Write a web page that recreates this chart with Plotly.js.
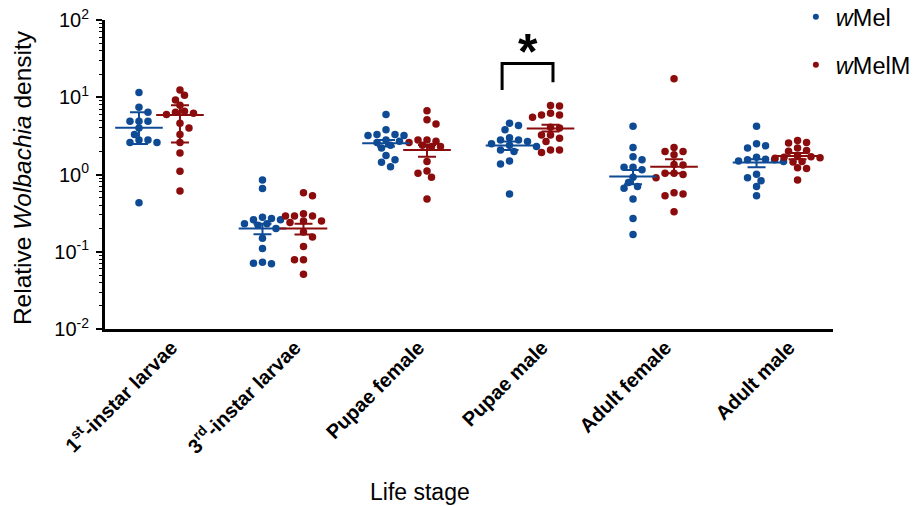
<!DOCTYPE html>
<html><head><meta charset="utf-8">
<script src="https://cdn.plot.ly/plotly-3.0.1.min.js"></script>
<style>html,body{margin:0;padding:0;background:#fff}#chart{width:915px;height:506px}</style>
</head><body><div id="chart"></div>
<script>
// ---- data ----
const stageLabels = ["1<sup>st</sup>-instar larvae", "3<sup>rd</sup>-instar larvae", "Pupae female", "Pupae male", "Adult female", "Adult male"];
const seriesNames = ["<i>w</i>Mel", "<i>w</i>MelM"];

const wMel_1st   = [11.5, 7.4, 6.4, 4.9, 4.9, 4.9, 4.0, 3.3, 2.8, 2.8, 2.6, 2.6, 0.43];
const wMel_3rd   = [0.85, 0.66, 0.28, 0.27, 0.26, 0.26, 0.23, 0.23, 0.22, 0.20, 0.15, 0.11, 0.073, 0.071, 0.070];
const wMel_pupF  = [6.0, 3.8, 3.3, 3.3, 3.2, 3.2, 2.8, 2.7, 2.6, 2.4, 2.2, 1.76, 1.55, 1.44, 1.26];
const wMel_pupM  = [4.6, 4.3, 3.8, 3.0, 2.8, 2.8, 2.67, 2.5, 2.4, 2.3, 2.08, 1.98, 1.5, 1.37, 0.56];
const wMel_adF   = [4.2, 2.23, 1.7, 1.55, 1.24, 1.24, 1.15, 0.92, 0.785, 0.70, 0.665, 0.48, 0.27, 0.167];
const wMel_adM   = [4.2, 2.5, 2.35, 2.2, 1.67, 1.58, 1.55, 1.55, 1.5, 1.47, 1.01, 0.91, 0.83, 0.70, 0.53];

const wMelM_1st  = [12.4, 10.6, 9.2, 7.9, 6.6, 6.4, 6.2, 6.0, 4.6, 4.0, 3.3, 2.6, 1.9, 1.1, 0.61];
const wMelM_3rd  = [0.58, 0.53, 0.31, 0.29, 0.29, 0.29, 0.25, 0.25, 0.24, 0.18, 0.155, 0.117, 0.079, 0.079, 0.051];
const wMelM_pupF = [6.7, 5.1, 4.5, 2.8, 2.8, 2.7, 2.6, 2.4, 2.3, 2.3, 1.47, 1.11, 1.04, 0.92, 0.48];
const wMelM_pupM = [7.8, 7.7, 6.2, 5.9, 5.9, 5.5, 4.1, 4.0, 3.25, 3.25, 2.95, 2.67, 2.08, 2.08, 1.92];
const wMelM_adF  = [17.3, 2.23, 1.98, 1.98, 1.8, 1.35, 1.33, 1.04, 1.04, 1.0, 0.91, 0.58, 0.56, 0.53, 0.33];
const wMelM_adM  = [2.75, 2.6, 2.55, 2.2, 2.05, 2.0, 1.75, 1.7, 1.67, 1.65, 1.62, 1.47, 1.45, 1.22, 1.2, 0.85];

// summary lines (centre) and error bar ends
const wMelCenter  = [4.04, 0.20, 2.54, 2.37, 0.94, 1.43];
const wMelUpper   = [6.4, 0.23, 2.8, 2.67, 1.14, 1.58];
const wMelLower   = [2.49, 0.169, 2.3, 2.08, 0.75, 1.24];
const wMelMCenter = [5.9, 0.20, 2.08, 3.93, 1.26, 1.74];
const wMelMUpper  = [7.9, 0.23, 2.41, 4.4, 1.58, 1.9];
const wMelMLower  = [2.59, 0.167, 1.70, 3.6, 1.04, 1.58];

const sigStage = 3;     // Pupae male
const sigLabel = "*";

// ---- layout geometry ----
const BLUE = '#0f4b94', RED = '#8b0c0c';
const FONT = 'Liberation Sans, Arial, sans-serif';
const W = 915, H = 506, ML = 105, MR = 82, MT = 20, MB = 177;
const plotW = W - ML - MR, plotH = H - MT - MB;
const xRange = [-0.441, 5.453], yRange = [-2, 2];
const pxPerX = plotW / (xRange[1] - xRange[0]);
const pxPerDec = plotH / (yRange[1] - yRange[0]);
const seriesOff = 0.166;
const dotD = 7.5;

// simple column scatter layout: spread points with similar values sideways
function swarm(vals) {
  const step = 4.5, thr = 6.8;
  const placed = [], offs = new Array(vals.length);
  const order = vals.map((v, i) => i).sort((a, b) => vals[b] - vals[a]);
  for (const i of order) {
    const y = Math.log10(vals[i]) * pxPerDec;
    let chosen = 0;
    const nR = placed.filter(p => p.x > 0).length, nL = placed.filter(p => p.x < 0).length;
    for (let k = 0; k < 60; k++) {
      const cands = k === 0 ? [0] : (nR > nL ? [-k * step, k * step] : [k * step, -k * step]);
      let ok = null;
      for (const c of cands) {
        if (placed.every(p => (p.x - c) ** 2 + (p.y - y) ** 2 >= thr * thr)) { ok = c; break; }
      }
      if (ok !== null) { chosen = ok; break; }
    }
    placed.push({ x: chosen, y });
    offs[i] = chosen / pxPerX;
  }
  return offs;
}

const wMelGroups = [wMel_1st, wMel_3rd, wMel_pupF, wMel_pupM, wMel_adF, wMel_adM];
const wMelMGroups = [wMelM_1st, wMelM_3rd, wMelM_pupF, wMelM_pupM, wMelM_adF, wMelM_adM];

const series = [
  { name: seriesNames[0], groups: wMelGroups, color: BLUE, off: -seriesOff, c: wMelCenter, u: wMelUpper, l: wMelLower, grp: 'a' },
  { name: seriesNames[1], groups: wMelMGroups, color: RED, off: seriesOff, c: wMelMCenter, u: wMelMUpper, l: wMelMLower, grp: 'b' }
];

const traces = [];
series.forEach(s => {
  const xs = [], ys = [];
  s.groups.forEach((g, gi) => {
    const o = swarm(g);
    g.forEach((v, j) => { xs.push(gi + s.off + o[j]); ys.push(v); });
  });
  traces.push({
    type: 'scatter', mode: 'markers', x: xs, y: ys, name: s.name, legendgroup: s.grp, showlegend: false,
    marker: { color: s.color, size: dotD, line: { width: 0 } }, hoverinfo: 'y'
  });
});
series.forEach(s => {
  const xs = s.c.map((v, i) => i + s.off);
  traces.push({
    type: 'scatter', mode: 'markers', x: xs, y: s.c, showlegend: false, hoverinfo: 'skip',
    marker: { color: 'rgba(0,0,0,0)', size: 1 },
    error_y: { type: 'data', symmetric: false, array: s.u.map((v, i) => v - s.c[i]),
      arrayminus: s.c.map((v, i) => v - s.l[i]), width: 9, thickness: 2, color: s.color }
  });
  traces.push({
    type: 'scatter', mode: 'markers', x: xs, y: s.c, showlegend: false, hoverinfo: 'skip',
    marker: { symbol: 'line-ew', size: 34, line: { width: 2, color: s.color } }
  });
});
// legend entries (small dots, as in the reference)
series.forEach(s => {
  traces.push({ type: 'scatter', mode: 'markers', x: [null], y: [null], name: s.name, legendgroup: s.grp,
    showlegend: true, marker: { color: s.color, size: 6 } });
});

// significance bracket over Pupae male
const maxA = Math.max(...wMelGroups[sigStage]), maxB = Math.max(...wMelMGroups[sigStage]);
const bracketTop = Math.max(maxA, maxB) * 3.5;
traces.push({
  type: 'scatter', mode: 'lines', showlegend: false, hoverinfo: 'skip',
  x: [sigStage - seriesOff - 0.06, sigStage - seriesOff - 0.06, sigStage + seriesOff + 0.02, sigStage + seriesOff + 0.02],
  y: [maxA * 2.7, bracketTop, bracketTop, maxB * 2.0],
  line: { color: 'black', width: 3 }
});

const layout = {
  width: W, height: H, margin: { l: ML, r: MR, t: MT, b: MB, autoexpand: false },
  paper_bgcolor: 'white', plot_bgcolor: 'white',
  font: { family: FONT, color: 'black' },
  showlegend: true,
  legend: { x: 0.949, y: 1.081, xanchor: 'left', yanchor: 'top', traceorder: 'grouped',
    tracegroupgap: 14.5, font: { size: 23.5, family: FONT }, bgcolor: 'rgba(0,0,0,0)' },
  xaxis: {
    range: xRange, tickvals: stageLabels.map((t, i) => i),
    ticktext: stageLabels.map(t => '<b>' + t + '</b>'),
    tickangle: -45, tickfont: { size: 20, family: FONT }, ticks: '',
    ticklabelshift: 12, ticklabelstandoff: -4,
    showline: true, linewidth: 3, linecolor: 'black', showgrid: false, zeroline: false
  },
  yaxis: {
    type: 'log', range: yRange, tickvals: [0.01, 0.1, 1, 10, 100],
    ticktext: ['10<sup>-2</sup>', '10<sup>-1</sup>', '10<sup>0</sup>', '10<sup>1</sup>', '10<sup>2</sup>'],
    tickfont: { size: 20, family: FONT }, ticks: 'outside', ticklen: 6, tickwidth: 2, tickcolor: 'black',
    ticklabelstandoff: 3,
    minor: { ticks: 'outside', ticklen: 3, tickwidth: 1, tickcolor: 'black', dtick: 'D1', showgrid: false },
    showline: true, linewidth: 3, linecolor: 'black', showgrid: false, zeroline: false
  },
  annotations: [
    { text: 'Relative <i>Wolbachia</i> density', xref: 'paper', yref: 'paper', x: -0.1133, y: 0.49,
      textangle: -90, showarrow: false, font: { size: 24.5, family: FONT }, xanchor: 'center', yanchor: 'middle' },
    { text: 'Life stage', xref: 'paper', yref: 'paper', x: 0.4327, y: -0.5275, showarrow: false,
      font: { size: 23, family: FONT }, xanchor: 'center', yanchor: 'middle' },
    { text: '<b>' + sigLabel + '</b>', xref: 'x', yref: 'y', x: sigStage - 0.02, y: Math.log10(bracketTop * 1.41),
      showarrow: false, font: { size: 50, family: FONT }, xanchor: 'center', yanchor: 'middle' }
  ]
};

Plotly.newPlot('chart', traces, layout, { displayModeBar: false, staticPlot: true });
</script></body></html>
